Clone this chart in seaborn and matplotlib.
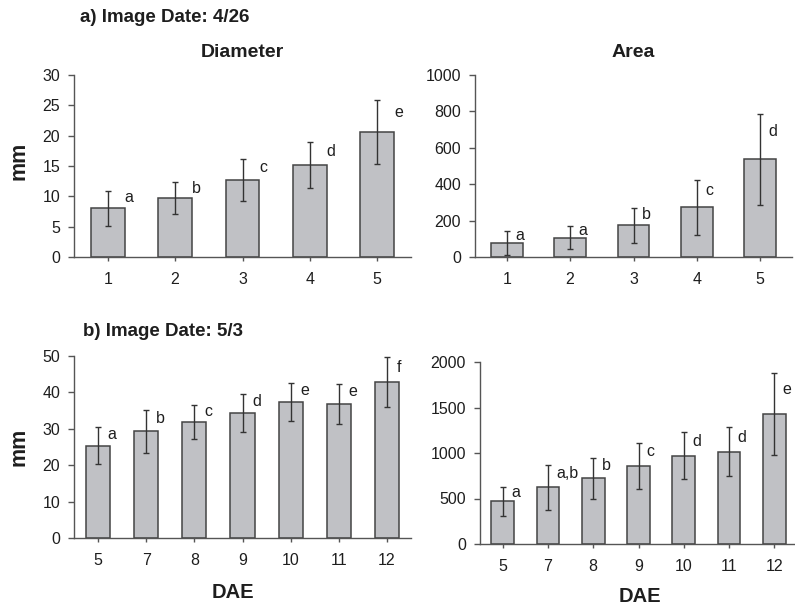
import matplotlib
matplotlib.use("Agg")
import matplotlib.pyplot as plt
import seaborn as sns
import pandas as pd
import numpy as np

# ---- data ----
dae_a = ["1", "2", "3", "4", "5"]
diam_a_mean = [8.0, 9.7, 12.7, 15.1, 20.6]
diam_a_sd = [2.9, 2.6, 3.45, 3.8, 5.35]
diam_a_letters = ["a", "b", "c", "d", "e"]
area_a_mean = [79, 107, 174, 273, 536]
area_a_sd = [66, 62, 97, 151, 252]
area_a_letters = ["a", "a", "b", "c", "d"]

dae_b = ["5", "7", "8", "9", "10", "11", "12"]
diam_b_mean = [25.4, 29.3, 31.9, 34.4, 37.3, 36.8, 42.8]
diam_b_sd = [5.0, 6.0, 4.7, 5.2, 5.15, 5.6, 6.9]
diam_b_letters = ["a", "b", "c", "d", "e", "e", "f"]
area_b_mean = [470, 624, 723, 858, 972, 1013, 1431]
area_b_sd = [160, 248, 224, 255, 262, 268, 453]
area_b_letters = ["a", "a,b", "b", "c", "d", "d", "e"]

sns.set_theme(style="white")
plt.rcParams["font.family"] = ["Liberation Sans", "DejaVu Sans"]

W, H = 795, 608
fig = plt.figure(figsize=(W / 100, H / 100), dpi=100)


def px_axes(l, t, r, b):
    return fig.add_axes([l / W, 1 - b / H, (r - l) / W, (b - t) / H])


BAR = "#c0c1c5"
EDGE = "#444444"
AX = "#555555"
TXT = "#1e1e1e"


def panel(ax, cats, mean, sd, letters, ymax, step, xoff):
    df = pd.DataFrame({"DAE": cats, "val": mean})
    sns.barplot(data=df, x="DAE", y="val", order=cats, color=BAR,
                edgecolor=EDGE, linewidth=1.1, width=0.5, ax=ax,
                saturation=1, errorbar=None)
    xs = np.arange(len(cats))
    ax.errorbar(xs, mean, yerr=sd, fmt="none", ecolor="#333333",
                elinewidth=1.0, capsize=2.0, capthick=1.0, zorder=5)
    for x, m, s, lab in zip(xs, mean, sd, letters):
        ax.annotate(lab, (x, m + 0.6 * s), xytext=(xoff, 0),
                    textcoords="offset points", ha="left", va="center",
                    fontsize=11.5, color=TXT)
    ax.set_xlim(-0.5, len(cats) - 0.5)
    ax.set_ylim(0, ymax)
    ax.set_yticks(np.arange(0, ymax + step / 2, step))
    ax.set_xlabel("")
    ax.set_ylabel("")
    for sp in ["top", "right"]:
        ax.spines[sp].set_visible(False)
    for sp in ["left", "bottom"]:
        ax.spines[sp].set_color(AX)
        ax.spines[sp].set_linewidth(1.0)
    ax.tick_params(axis="y", left=True, direction="out", length=4,
                   width=1, color=AX, labelsize=11.5, labelcolor=TXT, pad=6)
    ax.tick_params(axis="x", bottom=True, direction="out", length=3,
                   width=1, color=AX, labelsize=11.5, labelcolor=TXT, pad=8)


ax1 = px_axes(74, 75, 411, 257)
panel(ax1, dae_a, diam_a_mean, diam_a_sd, diam_a_letters, 30, 5, 12)
ax2 = px_axes(475, 75, 792, 257)
panel(ax2, dae_a, area_a_mean, area_a_sd, area_a_letters, 1000, 200, 6)
ax3 = px_axes(74, 356, 411, 538)
panel(ax3, dae_b, diam_b_mean, diam_b_sd, diam_b_letters, 50, 10, 7)
ax4 = px_axes(480, 362, 797, 544)
panel(ax4, dae_b, area_b_mean, area_b_sd, area_b_letters, 2000, 500, 6)

ax1.set_title("Diameter", fontsize=14, fontweight="bold", pad=13, color=TXT)
ax2.set_title("Area", fontsize=14, fontweight="bold", pad=13, color=TXT)

fig.text(80 / W, 1 - 17 / H, "a) Image Date: 4/26", fontsize=13.5, fontweight="bold",
         ha="left", va="center", color=TXT)
fig.text(83 / W, 1 - 332 / H, "b) Image Date: 5/3", fontsize=13.5, fontweight="bold",
         ha="left", va="center", color=TXT)

for yc in [161, 447]:
    fig.text(19 / W, 1 - yc / H, "mm", fontsize=15.5, fontweight="bold",
             rotation=90, ha="center", va="center", color=TXT)

fig.text(233 / W, 1 - 593 / H, "DAE", fontsize=14.5, fontweight="bold",
         ha="center", va="center", color=TXT)
fig.text(640 / W, 1 - 597 / H, "DAE", fontsize=14.5, fontweight="bold",
         ha="center", va="center", color=TXT)

fig.savefig("out.png", dpi=100)
